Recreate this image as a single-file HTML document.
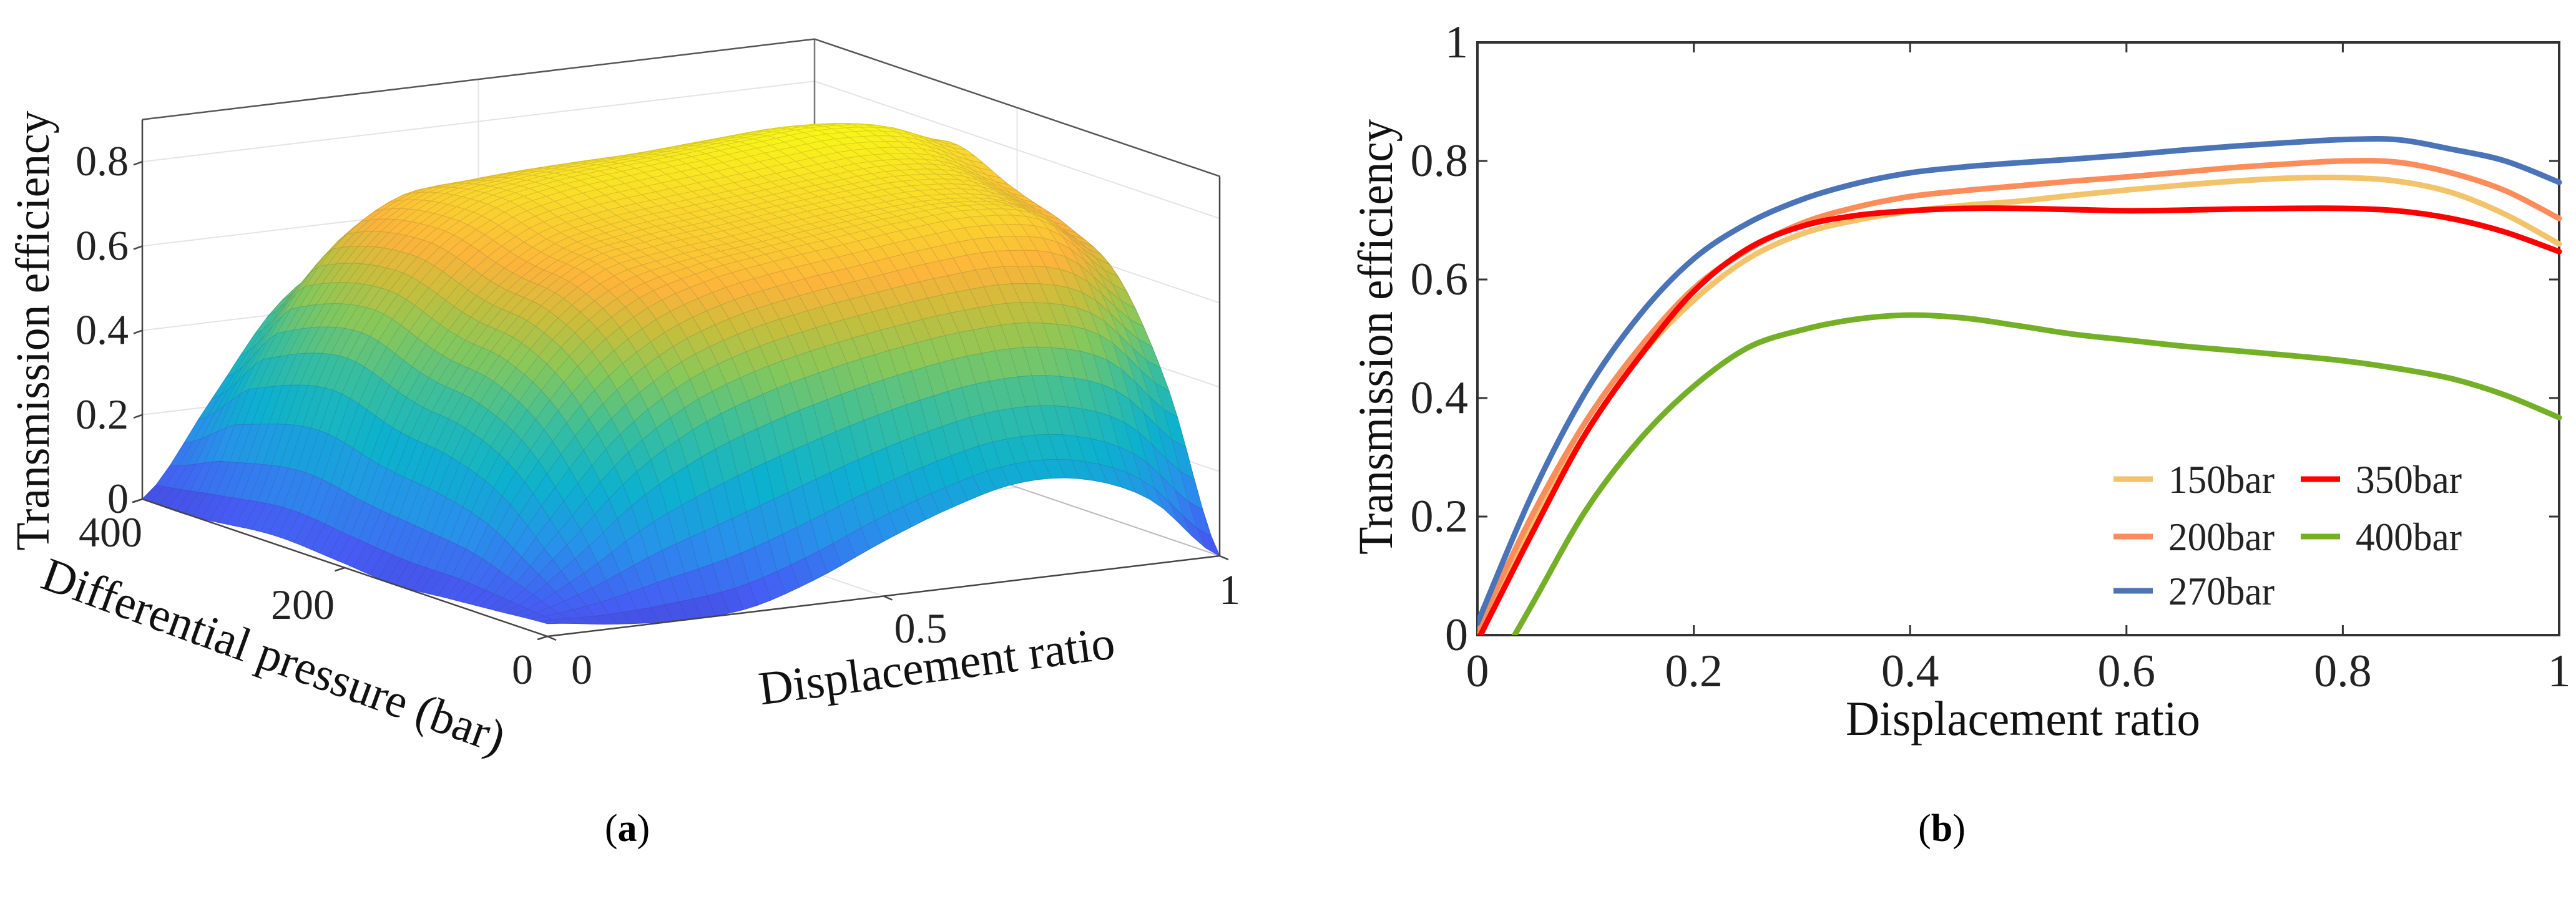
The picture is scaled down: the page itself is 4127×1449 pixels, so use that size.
<!DOCTYPE html>
<html><head><meta charset="utf-8"><style>
html,body{margin:0;padding:0;background:#fff;}
svg, svg text{font-family:"Liberation Serif","DejaVu Serif","Times New Roman",serif;}
</style></head><body>
<svg id="fig" width="4127" height="1444" viewBox="0 0 4127 1444" xmlns="http://www.w3.org/2000/svg">
<g id="left"></g>
<g id="right"></g>
<text x="1005" y="1348" font-size="62" text-anchor="middle">(<tspan font-weight="bold">a</tspan>)</text>
<text x="3111" y="1348" font-size="62" text-anchor="middle">(<tspan font-weight="bold">b</tspan>)</text>
</svg>
<script>
const NS="http://www.w3.org/2000/svg";
// ===== Right chart data =====
const xRatio=[0,0.05,0.1,0.15,0.2,0.25,0.3,0.35,0.4,0.45,0.5,0.55,0.6,0.65,0.7,0.75,0.8,0.85,0.9,0.95,1.0];
const eff150=[0,0.19,0.34,0.47,0.565,0.635,0.677,0.70,0.715,0.725,0.732,0.742,0.751,0.759,0.766,0.771,0.772,0.766,0.747,0.71,0.66];
const eff200=[0.01,0.20,0.36,0.485,0.585,0.65,0.695,0.722,0.74,0.75,0.758,0.766,0.773,0.781,0.789,0.795,0.80,0.798,0.78,0.75,0.703];
const eff270=[0.02,0.235,0.41,0.54,0.635,0.695,0.735,0.762,0.78,0.79,0.797,0.803,0.81,0.818,0.825,0.831,0.836,0.836,0.82,0.80,0.764];
const eff350=[-0.01,0.17,0.34,0.47,0.58,0.652,0.69,0.708,0.716,0.72,0.72,0.718,0.716,0.717,0.719,0.72,0.72,0.716,0.703,0.68,0.647];
const eff400=[-0.11,0.05,0.21,0.33,0.42,0.485,0.515,0.533,0.54,0.535,0.522,0.508,0.498,0.488,0.48,0.472,0.463,0.45,0.433,0.405,0.367];
const seriesNames=["150bar","200bar","270bar","350bar","400bar"];
const seriesColors=["#f2c36b","#fc8c5a","#4a73b8","#ff0000","#74b027"];
const xTicks=["0","0.2","0.4","0.6","0.8","1"];
const yTicks=["0","0.2","0.4","0.6","0.8","1"];
// ===== Left surface data (efficiency grid) =====
const pressures=[0,50,100,150,200,270,350,400];
const dispGrid=[0,0.1,0.2,0.3,0.4,0.5,0.6,0.7,0.8,0.9,1.0];
const zRow0=[0.03,0.01,0.0,0.01,0.06,0.13,0.19,0.23,0.22,0.15,0.0];
const zRow50=[0.02,0.15,0.30,0.40,0.46,0.50,0.53,0.55,0.55,0.50,0.35];
const zRow100=[0.01,0.28,0.48,0.60,0.66,0.69,0.71,0.73,0.74,0.71,0.58];
const zRow150=[0,0.34,0.56,0.68,0.715,0.732,0.751,0.766,0.772,0.747,0.66];
const zRow200=[0.01,0.36,0.58,0.70,0.74,0.758,0.773,0.789,0.80,0.78,0.703];
const zRow270=[0.02,0.41,0.63,0.74,0.78,0.797,0.81,0.825,0.836,0.82,0.764];
const zRow350=[0.0,0.34,0.58,0.695,0.716,0.72,0.716,0.719,0.72,0.703,0.647];
const zRow400=[0.0,0.21,0.42,0.52,0.54,0.52,0.498,0.48,0.463,0.433,0.367];
const zTicks=["0","0.2","0.4","0.6","0.8"];
const pTicks=["0","200","400"];
const dTicks=["0","0.5","1"];

function mk(tag,attrs,parent){const e=document.createElementNS(NS,tag);for(const k in attrs)e.setAttribute(k,attrs[k]);parent.appendChild(e);return e;}

// ---------- Right chart ----------
(function(){
const R=document.getElementById('right');
const L=2367,Rr=4100,T=68,B=1018;
const sx=v=>L+v*(Rr-L), sy=v=>B-v*(B-T);
const defs=mk('defs',{},R);
const cp=mk('clipPath',{id:'rclip'},defs);
mk('rect',{x:L,y:T-10,width:Rr-L+10,height:B-T+10},cp);
const frame=mk('rect',{x:L,y:T,width:Rr-L,height:B-T,fill:'none',stroke:'#333',"stroke-width":4},R);

xTicks.forEach((t,i)=>{const v=i/5;const x=sx(v);
 mk('line',{x1:x,y1:B,x2:x,y2:B-16,stroke:'#333',"stroke-width":3},R);
 mk('line',{x1:x,y1:T,x2:x,y2:T+16,stroke:'#333',"stroke-width":3},R);
 const tx=mk('text',{x:x,y:1100,"font-size":74,"text-anchor":"middle",fill:'#222'},R);tx.textContent=t;
 });
yTicks.forEach((t,i)=>{const v=i/5;const y=sy(v);
 mk('line',{x1:L,y1:y,x2:L+16,y2:y,stroke:'#333',"stroke-width":3},R);
 mk('line',{x1:Rr,y1:y,x2:Rr-16,y2:y,stroke:'#333',"stroke-width":3},R);
 const tx=mk('text',{x:2352,y:y+24,"font-size":74,"text-anchor":"end",fill:'#222'},R);tx.textContent=t;
 });
const xt=mk('text',{x:3241,y:1178,"font-size":78,"text-anchor":"middle",textLength:568,lengthAdjust:"spacingAndGlyphs",fill:'#111'},R);xt.textContent="Displacement ratio";

const yt=mk('text',{x:0,y:0,"font-size":78,"text-anchor":"middle",textLength:698,lengthAdjust:"spacingAndGlyphs",transform:"translate(2230,540) rotate(-90)",fill:'#111'},R);yt.textContent="Transmission efficiency";

function pathFor(xs,ys){const pts=xs.map((x,i)=>[sx(x),sy(ys[i])]);let d=`M${pts[0][0]},${pts[0][1]}`;
 for(let i=0;i<pts.length-1;i++){const p0=pts[Math.max(0,i-1)],p1=pts[i],p2=pts[i+1],p3=pts[Math.min(pts.length-1,i+2)];
  const c1=[p1[0]+(p2[0]-p0[0])/6,p1[1]+(p2[1]-p0[1])/6],c2=[p2[0]-(p3[0]-p1[0])/6,p2[1]-(p3[1]-p1[1])/6];
  d+=` C${c1[0]},${c1[1]} ${c2[0]},${c2[1]} ${p2[0]},${p2[1]}`;}return d;}
const all=[eff150,eff200,eff270,eff350,eff400];
const order=[4,0,1,2,3];
order.forEach(i=>{const p=mk('path',{d:pathFor(xRatio,all[i]),fill:'none',stroke:seriesColors[i],"stroke-width":9,"clip-path":"url(#rclip)","stroke-linecap":"round"},R);
 });
const legPos=[[3386,768],[3386,860],[3386,947],[3686,768],[3686,860]];
seriesNames.forEach((n,i)=>{const [lx,ly]=legPos[i];
 const g=mk('g',{},R);
 mk('line',{x1:lx,y1:ly,x2:lx+63,y2:ly,stroke:seriesColors[i],"stroke-width":9},g);
 const t=mk('text',{x:lx+88,y:ly+22,"font-size":64,textLength:170,lengthAdjust:"spacingAndGlyphs",fill:'#222'},g);t.textContent=n;});
})();

// ---------- Left surface ----------
(function(){
const G=document.getElementById('left');
const pr=(d,p,z)=>[877+1077*d-649*p/400,1020-129*d-220*p/400-676*z];
const line=(a,b,st,w,name)=>{const l=mk('line',{x1:a[0],y1:a[1],x2:b[0],y2:b[1],stroke:st,"stroke-width":w},G);
 return l;};
const zTop=0.9;
zTicks.forEach((t,i)=>{const z=i*0.2;
 line(pr(0,400,z),pr(1,400,z),'#e4e4e4',2,'back-grid-line');line(pr(1,400,z),pr(1,0,z),'#e4e4e4',2,'side-grid-line');});
line(pr(0.5,400,0),pr(0.5,400,zTop),'#e4e4e4',2,'back-grid-line');
line(pr(1,200,0),pr(1,200,zTop),'#e4e4e4',2,'side-grid-line');
line(pr(0.5,0,0),pr(0.5,400,0),'#e4e4e4',2,'floor-grid-line');
line(pr(0,200,0),pr(1,200,0),'#e4e4e4',2,'floor-grid-line');
line(pr(0,400,0),pr(1,400,0),'#bbb',2,'floor-edge');
line(pr(1,400,0),pr(1,0,0),'#bbb',2,'floor-edge');
line(pr(1,400,0),pr(1,400,zTop),'#777',2.5,'back-corner-edge');
line(pr(0,400,zTop),pr(1,400,zTop),'#555',2.5,'box-top-edge');
line(pr(1,400,zTop),pr(1,0,zTop),'#555',2.5,'box-top-edge');
const rows=[zRow0,zRow50,zRow100,zRow150,zRow200,zRow270,zRow350,zRow400];
function cr(a,t){const n=a.length;const f=t*(n-1);let i=Math.min(n-2,Math.floor(f));const u=f-i;
 const p0=a[Math.max(0,i-1)],p1=a[i],p2=a[i+1],p3=a[Math.min(n-1,i+2)];
 return 0.5*((2*p1)+(-p0+p2)*u+(2*p0-5*p1+4*p2-p3)*u*u+(-p0+3*p1-3*p2+p3)*u*u*u);}
function zAt(d,p){const col=rows.map(r=>cr(r,d));
 let j=0;while(j<pressures.length-2&&p>pressures[j+1])j++;
 const u=(p-pressures[j])/(pressures[j+1]-pressures[j]);
 const c0=col[Math.max(0,j-1)],c1=col[j],c2=col[j+1],c3=col[Math.min(col.length-1,j+2)];
 return 0.5*((2*c1)+(-c0+c2)*u+(2*c0-5*c1+4*c2-c3)*u*u+(-c0+3*c1-3*c2+c3)*u*u*u);}
const stops=[[0,[62,38,168]],[0.125,[70,92,244]],[0.25,[40,145,235]],[0.375,[12,177,207]],[0.5,[55,190,160]],[0.625,[135,200,90]],[0.72,[200,190,60]],[0.8,[252,180,60]],[0.9,[250,215,45]],[1,[249,250,20]]];
function cmap(v){v=Math.max(0,Math.min(1,v));for(let i=0;i<stops.length-1;i++){if(v<=stops[i+1][0]){const u=(v-stops[i][0])/(stops[i+1][0]-stops[i][0]);
 const a=stops[i][1],b=stops[i+1][1];return `rgb(${Math.round(a[0]+(b[0]-a[0])*u)},${Math.round(a[1]+(b[1]-a[1])*u)},${Math.round(a[2]+(b[2]-a[2])*u)})`;}}return 'rgb(249,250,20)';}
const N=48;const Z=[];
for(let i=0;i<=N;i++){Z.push([]);for(let j=0;j<=N;j++)Z[i].push(zAt(i/N,400*j/N));}
const quads=[];
for(let i=0;i<N;i++)for(let j=0;j<N;j++)quads.push([i,j,(i+0.5)/N+(j+0.5)/N]);
quads.sort((a,b)=>b[2]-a[2]);
const sg=mk('g',{},G);
quads.forEach(([i,j])=>{const c=[[i,j],[i+1,j],[i+1,j+1],[i,j+1]].map(([a,b])=>pr(a/N,400*b/N,Z[a][b]));
 const zm=(Z[i][j]+Z[i+1][j]+Z[i+1][j+1]+Z[i][j+1])/4;
 const col=cmap((zm+0.08)/0.93);
 const pts=c.map(q=>q[0].toFixed(1)+','+q[1].toFixed(1)).join(' ');
 mk('polygon',{points:pts,fill:col,stroke:col,"stroke-width":1.2},sg);
 mk('polygon',{points:pts,fill:'none',stroke:'rgba(60,60,60,0.18)',"stroke-width":1},sg);});
line(pr(0,400,0),pr(0,400,zTop),'#444',2.5,'z-axis');
line(pr(1,0,0),pr(1,0,zTop),'#444',2.5,'right-box-edge');
line(pr(0,400,0),pr(0,0,0),'#444',2.5,'pressure-axis');
line(pr(0,0,0),pr(1,0,0),'#444',2.5,'displacement-axis');
zTicks.forEach((t,i)=>{const z=i*0.2;const a=pr(0,400,z);
 line(a,[a[0]-14,a[1]+5],'#444',2.5,'z-tick');
 const tx=mk('text',{x:a[0]-22,y:a[1]+22,"font-size":68,"text-anchor":"end",fill:'#222'},G);tx.textContent=t;
 });
const pLab=[[837,1096],[485,992],[177,876]];
pTicks.forEach((t,i)=>{const a=pr(0,200*i,0);line(a,[a[0]-16,a[1]+5],'#444',2.5,'pressure-tick');
 const tx=mk('text',{x:pLab[i][0],y:pLab[i][1],"font-size":68,"text-anchor":"middle",fill:'#222'},G);tx.textContent=t;
 });
const dLab=[[932,1096],[1475,1030],[1970,968]];
dTicks.forEach((t,i)=>{const a=pr(0.5*i,0,0);line(a,[a[0]+14,a[1]+6],'#444',2.5,'displacement-tick');
 const tx=mk('text',{x:dLab[i][0],y:dLab[i][1],"font-size":68,"text-anchor":"middle",fill:'#222'},G);tx.textContent=t;
 });
const t1=mk('text',{x:0,y:0,"font-size":76,"text-anchor":"middle",textLength:705,lengthAdjust:"spacingAndGlyphs",transform:"translate(78,530) rotate(-90)",fill:'#111'},G);t1.textContent="Transmission efficiency";

const t2=mk('text',{x:0,y:0,"font-size":76,"text-anchor":"middle",textLength:783,lengthAdjust:"spacingAndGlyphs",transform:"translate(430,1075) rotate(20)",fill:'#111'},G);t2.textContent="Differential pressure (bar)";

const t3=mk('text',{x:0,y:0,"font-size":76,"text-anchor":"middle",textLength:574,lengthAdjust:"spacingAndGlyphs",transform:"translate(1504,1092) rotate(-7.5)",fill:'#111'},G);t3.textContent="Displacement ratio";

})();
</script>
</body></html>
